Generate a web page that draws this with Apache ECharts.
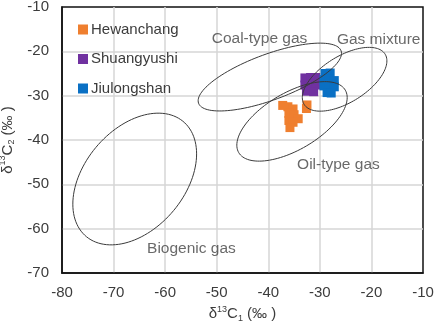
<!DOCTYPE html>
<html>
<head>
<meta charset="utf-8">
<script src="https://cdn.jsdelivr.net/npm/echarts@6/dist/echarts.min.js"></script>
<style>
  html, body { margin: 0; padding: 0; background: #fff; }
  #chart { width: 436px; height: 324px; }
</style>
</head>
<body>
<div id="chart"></div>
<script>
// sample points, d13C1 / d13C2 (permil)
const hewanchangX = [-37.2, -36.2, -35.2, -32.5, -32.6, -36.0, -35.0, -34.2, -36.0, -35.2, -35.8]
const hewanchangY = [-32.2, -32.5, -33.0, -32.1, -32.9, -34.0, -34.3, -35.2, -35.6, -36.0, -37.2]
const shuangyushiX = [-32.9, -31.8, -30.8, -32.9, -31.8, -30.8, -32.6, -31.2]
const shuangyushiY = [-26.0, -25.9, -25.9, -27.6, -27.4, -27.6, -29.0, -29.1]
const jiulongshanX = [-29.0, -28.0, -29.2, -28.2, -27.2, -29.2, -28.2, -27.2, -28.6, -27.8]
const jiulongshanY = [-25.0, -24.9, -26.4, -26.3, -26.6, -27.8, -27.9, -28.0, -29.3, -29.4]

// gas type fields: centre, conjugate half axes (ux, uy) and (0, vy)
const fieldNames = ['Coal-type gas', 'Gas mixture', 'Oil-type gas', 'Biogenic gas']
const fieldCx = [-39.7, -25.2, -35.4, -65.9]
const fieldCy = [-25.8, -26.3, -35.8, -48.8]
const fieldUx = [13.9, 8.2, 10.7, 12.0]
const fieldUy = [5.35, 4.15, 5.36, 5.67]
const fieldVy = [5.47, 5.88, 7.19, 13.73]
const fieldLabelX = [-41.7, -18.6, -26.4, -54.9]
const fieldLabelY = [-17.2, -17.4, -45.6, -64.5]

const xTicks = [-80, -70, -60, -50, -40, -30, -20, -10]
const yTicks = [-70, -60, -50, -40, -30, -20, -10]

const font = '"Liberation Sans", Arial, sans-serif'
const textColor = '#3c3c3c'

const zip = (xs, ys) => xs.map((x, i) => [x, ys[i]])

const chart = echarts.init(document.getElementById('chart'))

const nameRich = {
  sup: { fontSize: 9, fontFamily: font, color: textColor, verticalAlign: 'top', lineHeight: 18 },
  sub: { fontSize: 9, fontFamily: font, color: textColor, verticalAlign: 'bottom', lineHeight: 18 },
}

function pointSeries(name, color, xs, ys) {
  return {
    name,
    type: 'scatter',
    symbol: 'rect',
    symbolSize: 9,
    itemStyle: { color, opacity: 1 },
    data: zip(xs, ys),
    z: 2,
  }
}

chart.setOption({
  animation: false,
  textStyle: { fontFamily: font },
  grid: {
    left: 62, right: 13, top: 7, bottom: 51,
    outerBoundsMode: 'none',
    containLabel: false,
    show: true, borderColor: '#111', borderWidth: 1.5,
  },
  legend: {
    orient: 'vertical',
    left: 73,
    top: 17,
    itemWidth: 10,
    itemHeight: 10,
    itemGap: 14.5,
    icon: 'rect',
    textStyle: { fontSize: 15, color: textColor, fontFamily: font, padding: [0, 0, 0, -2] },
    data: ['Hewanchang', 'Shuangyushi', 'Jiulongshan'],
  },
  xAxis: {
    type: 'value',
    min: xTicks[0],
    max: xTicks[xTicks.length - 1],
    interval: 10,
    name: 'δ{sup|13}C{sub|1} (‰ )',
    nameLocation: 'middle',
    nameGap: 31,
    nameTextStyle: { fontSize: 15, color: textColor, fontFamily: font, lineHeight: 18, rich: nameRich },
    axisLine: { lineStyle: { color: '#111', width: 1.5 } },
    axisTick: { show: false },
    axisLabel: { fontSize: 15, color: textColor, margin: 12 },
    splitLine: { showMinLine: false, showMaxLine: false, lineStyle: { color: '#d6d6d6', width: 1.5 } },
  },
  yAxis: {
    type: 'value',
    min: yTicks[0],
    max: yTicks[yTicks.length - 1],
    interval: 10,
    name: 'δ{sup|13}C{sub|2} (‰ )',
    nameLocation: 'middle',
    nameGap: 39,
    nameTextStyle: { fontSize: 15, color: textColor, fontFamily: font, lineHeight: 18, rich: nameRich },
    axisLine: { lineStyle: { color: '#111', width: 1.5 } },
    axisTick: { show: false },
    axisLabel: { fontSize: 15, color: textColor, margin: 13 },
    splitLine: { showMinLine: false, showMaxLine: false, lineStyle: { color: '#d6d6d6', width: 1.5 } },
  },
  series: [
    pointSeries('Hewanchang', '#ef7f2f', hewanchangX, hewanchangY),
    pointSeries('Shuangyushi', '#7031a0', shuangyushiX, shuangyushiY),
    pointSeries('Jiulongshan', '#0a70c4', jiulongshanX, jiulongshanY),
    {
      type: 'custom',
      silent: true,
      z: 5,
      data: fieldCx.map((cx, i) => [cx, fieldCy[i], fieldUx[i], fieldUy[i], fieldVy[i]]),
      renderItem(params, api) {
        const cx = api.value(0), cy = api.value(1)
        const ux = api.value(2), uy = api.value(3), vy = api.value(4)
        const pts = []
        for (let k = 0; k <= 120; k++) {
          const t = (k / 120) * Math.PI * 2
          pts.push(api.coord([cx + ux * Math.cos(t), cy + uy * Math.cos(t) + vy * Math.sin(t)]))
        }
        return {
          type: 'polyline',
          shape: { points: pts },
          style: { fill: null, stroke: '#3a3a3a', lineWidth: 1 },
        }
      },
    },
    {
      type: 'scatter',
      silent: true,
      symbolSize: 0,
      data: fieldNames.map((n, i) => ({ name: n, value: [fieldLabelX[i], fieldLabelY[i]] })),
      label: {
        show: true,
        position: 'inside',
        formatter: '{b}',
        fontSize: 15.5,
        color: '#444',
        fontFamily: font,
      },
      z: 6,
    },
  ],
})
</script>
</body>
</html>
